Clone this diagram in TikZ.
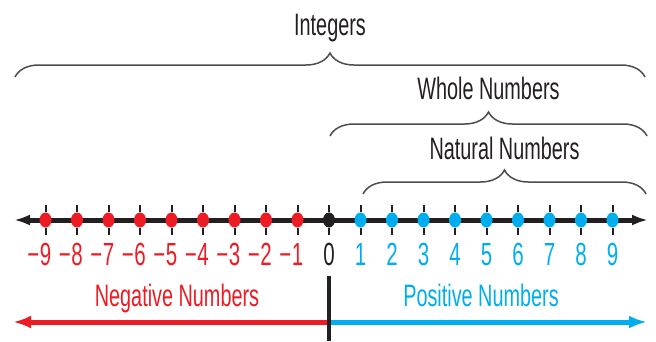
\documentclass[tikz,border=0pt]{standalone}
\usepackage{fontspec}
\setmainfont{Liberation Sans}[FakeStretch=0.64]
\usepackage{tikz}
\usetikzlibrary{arrows.meta}
\usetikzlibrary{positioning}
\usetikzlibrary{shapes.geometric}
\usetikzlibrary{decorations.pathreplacing}
\tikzset{>=Latex}
\usepackage{xcolor}
\definecolor{negred}{HTML}{ED1C24}
\definecolor{posblue}{HTML}{00AEEF}
\definecolor{inkblack}{HTML}{231F20}
\definecolor{bracegray}{HTML}{4D4D4D}
\def\unitsep{31.5}
\def\zerox{329}
\def\liney{220}

\begin{document}
\begin{tikzpicture}[x=1pt,y=-1pt,
	dot/.style={ellipse, minimum width=12pt, minimum height=15pt, inner sep=0},
	tick/.style={inkblack, line width=2pt},
	numlabel/.style={font=\fontsize{32}{32}\selectfont, inner sep=0, text height=23pt, text depth=0pt},
	setlabel/.style={font=\fontsize{31}{31}\selectfont, inner sep=0, text height=22pt, text depth=6pt, text=inkblack},
	setbrace/.style={decorate, decoration={brace, amplitude=24pt}, line width=1.5pt, draw=bracegray},
	]
	\useasboundingbox (0,0) rectangle (656,341);
	
	% number line
	\coordinate (lend) at (14,\liney);
	\coordinate (rend) at (648,\liney);
	\draw[inkblack, line width=5pt, {Latex[length=16pt,width=11pt]}-{Latex[length=16pt,width=11pt]}] (lend) -- (rend);
	
	\node[dot, fill=inkblack] (zero) at (\zerox,\liney) {};
	\foreach \i in {1,...,9}{
		\node[dot, fill=negred] (neg\i) at (\zerox-\unitsep*\i,\liney) {};
		\node[dot, fill=posblue] (pos\i) at (\zerox+\unitsep*\i,\liney) {};
	}
	
	\foreach \n in {zero,neg1,neg2,neg3,neg4,neg5,neg6,neg7,neg8,neg9,pos1,pos2,pos3,pos4,pos5,pos6,pos7,pos8,pos9}{
		\draw[tick] (\n.north) -- ++(0,-7);
		\draw[tick] (\n.south) -- ++(0,7);
	}
	
	\node[numlabel, text=inkblack, below=15pt of zero] (lab0) {0};
	\foreach \i in {1,...,9}{
		\node[numlabel, text=negred, below=15pt of neg\i] (labneg\i) {\llap{−\kern0.5pt}\i};
		\node[numlabel, text=posblue, below=15pt of pos\i] (labpos\i) {\i};
	}
	
	% Braces
	
	\coordinate (intL) at (15,77);
	\coordinate (intR) at (645,77);
	\draw[setbrace] (intL) -- coordinate (intmid) (intR);
	\node[setlabel, above=35pt of intmid] (intlabel) {Integers};
	
	\coordinate (wholeL) at (330,136);
	\coordinate (wholeR) at (647,136);
	\draw[setbrace] (wholeL) -- coordinate (wholemid) (wholeR);
	\node[setlabel, above=30pt of wholemid] (wholelabel) {Whole Numbers};
	
	\coordinate (natL) at (363,194);
	\coordinate (natR) at (646,194);
	\draw[setbrace] (natL) -- coordinate (natmid) (natR);
	\node[setlabel, above=28pt of natmid] (natlabel) {Natural Numbers};
	
	% negative / positive
	
	\coordinate (mid) at (\zerox,322);
	\coordinate (negend) at (13,322);
	\coordinate (posend) at (647,322);
	\coordinate (divtop) at (\zerox,276);
	\coordinate (divbot) at (\zerox,341);
	\draw[negred, line width=5pt, -{Latex[length=18pt,width=13pt]}] (mid) -- (negend);
	\draw[posblue, line width=5pt, -{Latex[length=18pt,width=13pt]}] (mid) -- (posend);
	\draw[inkblack, line width=3.5pt] (divtop) -- (divbot);
	
	\node[setlabel, text=negred] (neglabel) at (177,298) {Negative Numbers};
	\node[setlabel, text=posblue] (poslabel) at (481,298) {Positive Numbers};
	
\end{tikzpicture}
\end{document}
